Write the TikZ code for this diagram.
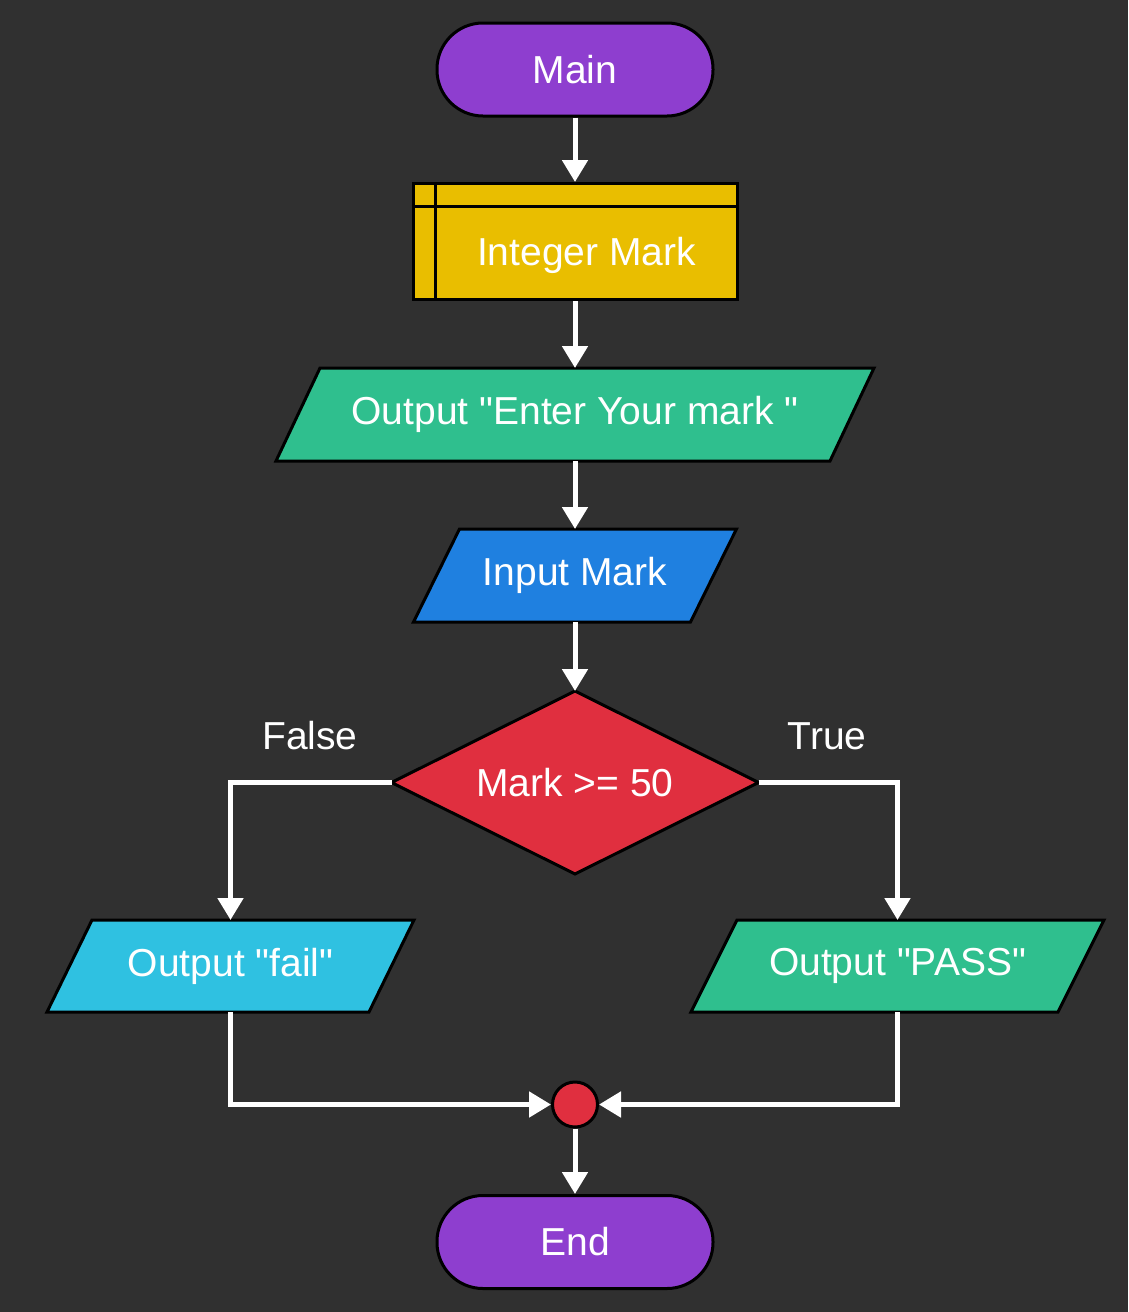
\documentclass[tikz,border=0pt]{standalone}
\usepackage{fontspec}
\setmainfont{Liberation Sans}
\font\lsbig="Liberation Sans" at 39pt
\usetikzlibrary{arrows.meta,calc}
\pgfdeclarelayer{bg}
\pgfdeclarelayer{shapes}
\pgfsetlayers{bg,shapes,main}
\definecolor{bgc}{HTML}{303030}
\definecolor{cpurple}{HTML}{8E3ECF}
\definecolor{cyellow}{HTML}{E9BE00}
\definecolor{cgreen}{HTML}{2FBF8E}
\definecolor{cblue}{HTML}{1F80E0}
\definecolor{cred}{HTML}{E02F3F}
\definecolor{ccyan}{HTML}{2FC1E1}
\tikzset{
  txt/.style={text=white, font=\lsbig},
  holder/.style={txt, inner sep=0pt, outer sep=0pt, draw=none},
  terminal/.style={txt, draw=black, line width=3pt, fill=cpurple, rounded corners=46pt, minimum width=276pt, minimum height=93pt, inner sep=0pt},
  shapeline/.style={draw=black, line width=3pt, line join=miter},
  conn/.style={draw=white, line width=5pt, -{Triangle[width=25pt,length=22pt]}},
  lbl/.style={text=white, font=\lsbig, inner sep=0pt}
}
\begin{document}
\begin{tikzpicture}[x=1pt,y=-1pt]
\begin{pgfonlayer}{bg}
\fill[bgc] (0,0) rectangle (1128,1312);
\end{pgfonlayer}
\useasboundingbox (0,0) rectangle (1128,1312);

% nodes
\node[terminal] (main) at (575,69.5) {Main};
\node[draw=black, line width=3pt, fill=cyellow, minimum width=324pt, minimum height=116pt, inner sep=0pt] (intm) at (575,241.5) {};
\draw[line width=3pt] ([xshift=24pt]intm.north west) -- ([xshift=24pt]intm.south west);
\draw[line width=3pt] ([yshift=-24pt]intm.north west) -- ([yshift=-24pt]intm.north east);
\node[lbl] (intmt) at (586.5,255) {Integer Mark};

\node[holder, minimum width=598pt, minimum height=93pt] (out1) at (575,414.5) {Output "Enter Your mark "};
\node[holder, minimum width=323pt, minimum height=93pt] (inp) at (575,575.5) {Input Mark};
\node[holder, minimum width=367pt, minimum height=183pt] (dec) at (575,782.5) {Mark >= 50};
\node[holder, minimum width=367pt, minimum height=92pt] (fail) at (230.5,966) {Output "fail"};
\node[holder, minimum width=413pt, minimum height=92pt] (pass) at (897.5,966) {Output "PASS"};
\node[circle, draw=black, line width=3pt, fill=cred, minimum size=45pt, inner sep=0pt] (join) at (575,1104.5) {};
\node[terminal] (end) at (575,1242) {End};

\node[lbl] (lf) at (310,736) {False};
\node[lbl] (lt) at (827,736) {True};

\begin{pgfonlayer}{shapes}
\draw[shapeline, fill=cgreen] ([xshift=44pt]out1.north west) -- (out1.north east) -- ([xshift=-44pt]out1.south east) -- (out1.south west) -- cycle;
\draw[shapeline, fill=cblue] ([xshift=46pt]inp.north west) -- (inp.north east) -- ([xshift=-46pt]inp.south east) -- (inp.south west) -- cycle;
\draw[shapeline, fill=cred] (dec.north) -- (dec.east) -- (dec.south) -- (dec.west) -- cycle;
\draw[shapeline, fill=ccyan] ([xshift=45pt]fail.north west) -- (fail.north east) -- ([xshift=-45pt]fail.south east) -- (fail.south west) -- cycle;
\draw[shapeline, fill=cgreen] ([xshift=46pt]pass.north west) -- (pass.north east) -- ([xshift=-46pt]pass.south east) -- (pass.south west) -- cycle;
\end{pgfonlayer}

% connectors
\draw[conn] (main.south) -- (intm.north);
\draw[conn] (intm.south) -- (out1.north);
\draw[conn] (out1.south) -- (inp.north);
\draw[conn] (inp.south) -- (dec.north);
\draw[conn] (dec.west) -| (fail.north);
\draw[conn] (dec.east) -| (pass.north);
\draw[conn] (fail.south) |- (join.west);
\draw[conn] (pass.south) |- (join.east);
\draw[conn] (join.south) -- (end.north);
\end{tikzpicture}
\end{document}
